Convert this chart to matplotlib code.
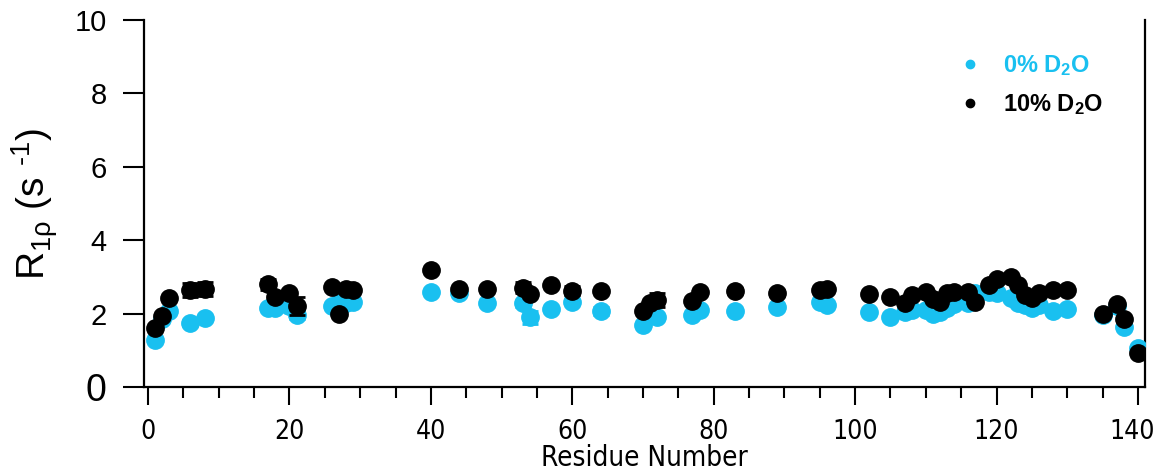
import matplotlib
matplotlib.use("Agg")
import matplotlib.pyplot as plt
import matplotlib.font_manager as fm
import matplotlib.transforms as mtransforms
from matplotlib.lines import Line2D
from matplotlib.ticker import MultipleLocator

plt.rcParams["font.family"] = ["Liberation Sans", "DejaVu Sans"]
plt.rcParams["mathtext.fontset"] = "custom"
plt.rcParams["mathtext.rm"] = "Liberation Sans"
plt.rcParams["mathtext.it"] = "Liberation Sans"
plt.rcParams["mathtext.bf"] = "Liberation Sans:bold"

# residue numbers
residues = [1, 2, 3, 6, 8, 17, 18, 20, 21, 26, 27, 28, 29, 40, 44, 48, 53, 54,
            57, 60, 64, 70, 71, 72, 77, 78, 83, 89, 95, 96, 102, 105, 107, 108,
            110, 111, 112, 113, 114, 116, 117, 119, 120, 122, 123, 124, 125,
            126, 128, 130, 135, 137, 138, 140]

# R1rho, 0% D2O
r1_d0 = [1.28, 1.85, 2.07, 1.74, 1.88, 2.15, 2.15, 2.20, 1.97, 2.20, 2.30, 2.30,
         2.32, 2.58, 2.55, 2.30, 2.28, 1.90, 2.12, 2.32, 2.07, 1.69, 1.95, 1.91,
         1.96, 2.10, 2.07, 2.18, 2.32, 2.24, 2.04, 1.90, 2.05, 2.10, 2.10, 2.00,
         2.05, 2.15, 2.25, 2.30, 2.55, 2.60, 2.55, 2.42, 2.30, 2.23, 2.15, 2.23,
         2.07, 2.12, 1.97, 2.20, 1.63, 1.05]
err_d0 = [0.05, 0.05, 0.05, 0.08, 0.05, 0.05, 0.05, 0.05, 0.12, 0.05, 0.05, 0.05,
          0.05, 0.05, 0.05, 0.05, 0.10, 0.18, 0.05, 0.05, 0.12, 0.05, 0.05, 0.05,
          0.05, 0.05, 0.05, 0.05, 0.05, 0.05, 0.05, 0.05, 0.05, 0.05, 0.05, 0.05,
          0.05, 0.05, 0.05, 0.05, 0.05, 0.05, 0.05, 0.05, 0.05, 0.05, 0.05, 0.05,
          0.05, 0.05, 0.05, 0.05, 0.05, 0.05]

# R1rho, 10% D2O
r1_d10 = [1.60, 1.93, 2.42, 2.64, 2.67, 2.80, 2.45, 2.55, 2.20, 2.73, 1.99, 2.67,
          2.64, 3.19, 2.67, 2.67, 2.70, 2.53, 2.78, 2.62, 2.62, 2.07, 2.28, 2.37,
          2.34, 2.60, 2.62, 2.56, 2.64, 2.67, 2.53, 2.45, 2.30, 2.50, 2.60, 2.40,
          2.32, 2.56, 2.60, 2.60, 2.32, 2.78, 2.94, 3.00, 2.78, 2.50, 2.42, 2.56,
          2.64, 2.64, 2.00, 2.26, 1.85, 0.93]
err_d10 = [0.05, 0.05, 0.05, 0.20, 0.20, 0.15, 0.05, 0.05, 0.25, 0.05, 0.05, 0.05,
           0.05, 0.05, 0.05, 0.05, 0.15, 0.05, 0.05, 0.12, 0.05, 0.05, 0.05, 0.18,
           0.05, 0.05, 0.08, 0.08, 0.05, 0.05, 0.05, 0.05, 0.05, 0.05, 0.05, 0.05,
           0.05, 0.05, 0.05, 0.05, 0.05, 0.05, 0.05, 0.05, 0.05, 0.05, 0.05, 0.05,
           0.05, 0.05, 0.05, 0.05, 0.05, 0.05]

xticks = [0, 20, 40, 60, 80, 100, 120, 140]
yticks = [0, 2, 4, 6, 8, 10]
labels = ["0% D$_\\mathbf{2}$O", "10% D$_\\mathbf{2}$O"]
colors = ["#19C0F0", "black"]


def find_narrow_font():
    # look for a condensed sans face; the x axis text in the original is narrow
    best = None
    for f in fm.fontManager.ttflist:
        if f.style != "normal" or f.weight not in (400, "normal", "regular", "book"):
            continue
        name = f.name.lower()
        narrow = ("narrow" in name or "condensed" in name
                  or str(f.stretch) in ("condensed", "semi-condensed", "extra-condensed"))
        if not narrow:
            continue
        if "liberation" in name or "arial" in name:
            return f.fname
        if best is None:
            best = f.fname
    return best


narrow_file = find_narrow_font()
if narrow_file:
    tick_fp = fm.FontProperties(fname=narrow_file, size=19)
    xlab_fp = fm.FontProperties(fname=narrow_file, size=20)
else:
    tick_fp = fm.FontProperties(family="Liberation Sans", size=16)
    xlab_fp = fm.FontProperties(family="Liberation Sans", size=20)

fig = plt.figure(figsize=(11.54, 4.70), dpi=100)
ax = fig.add_axes([0.1248, 0.1766, 0.8674, 0.7808])

for y, err, color, z in [(r1_d0, err_d0, colors[0], 3), (r1_d10, err_d10, colors[1], 4)]:
    ax.errorbar(residues, y, yerr=err, fmt="o", ms=12.5, color=color,
                mec=color, ecolor=color, elinewidth=2, capsize=6, capthick=2,
                zorder=z)

ax.set_xlim(-0.57, 141)
ax.set_ylim(0, 10)
ax.spines["top"].set_visible(False)
for side in ["left", "right", "bottom"]:
    ax.spines[side].set_linewidth(1.6)

ax.set_xticks(xticks)
ax.set_xticklabels([str(v) for v in xticks], fontproperties=tick_fp)
ax.xaxis.set_minor_locator(MultipleLocator(5))
ax.set_yticks(yticks)
ax.tick_params(axis="x", which="major", length=13, width=1.5, pad=10)
ax.tick_params(axis="x", which="minor", length=8, width=1.5)
ax.tick_params(axis="y", which="major", length=15, width=1.5, pad=12, labelsize=21)
ax.tick_params(axis="y", right=False)
ax.get_yticklabels()[0].set_fontsize(27)

# nudge the last x label inward a little so it stays inside the canvas
last = ax.get_xticklabels()[-1]
last.set_transform(last.get_transform()
                   + mtransforms.ScaledTranslation(-4 / 72, 0, fig.dpi_scale_trans))

ax.set_xlabel("Residue Number", fontproperties=xlab_fp, labelpad=-1)
ax.set_ylabel("R$_{1\\rho}$ (s $^{\\text{-1}}$)", fontsize=28, labelpad=10)

handles = [Line2D([], [], ls="none", marker="o", ms=6, color=c) for c in colors]
leg = ax.legend(handles, labels, loc="upper left", bbox_to_anchor=(0.78, 0.968),
                frameon=False, handletextpad=0.43, labelspacing=0.6,
                prop={"size": 17, "weight": "bold"})
for txt, c in zip(leg.get_texts(), colors):
    txt.set_color(c)

fig.savefig("out.png", dpi=100)
